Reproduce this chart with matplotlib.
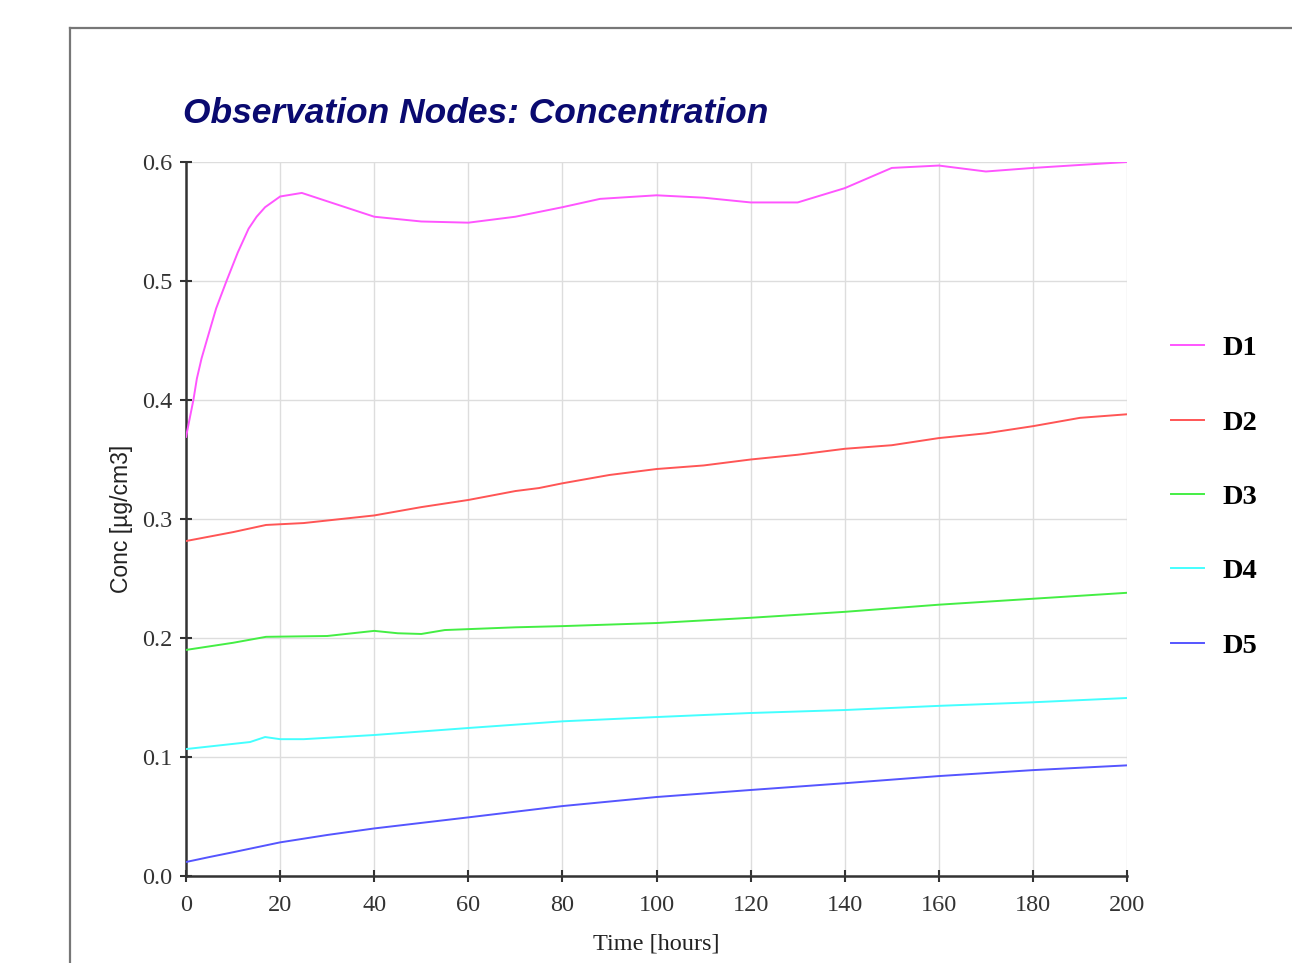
import matplotlib.pyplot as plt
from matplotlib.lines import Line2D
import numpy as np

# time points (hours)
t_d1 = [0, 0.8, 1.56, 2.3, 3.3, 4.4, 6.4, 8.6, 11, 13.3, 15, 16.8, 20, 24.6, 40, 50, 60, 70, 80, 88,
        100, 110, 120, 130, 140, 150, 160, 170, 180, 200]
d1 = [0.369, 0.385, 0.400, 0.418, 0.435, 0.450, 0.477, 0.500, 0.524, 0.544, 0.554, 0.562, 0.571, 0.574,
      0.554, 0.550, 0.549, 0.554, 0.562, 0.569, 0.572, 0.570, 0.566, 0.566, 0.578, 0.595, 0.597, 0.592,
      0.595, 0.600]

t_d2 = [0, 10, 17, 25, 40, 50, 60, 70, 75, 80, 90, 100, 110, 120, 130, 140, 150, 160, 170, 180, 190, 200]
d2 = [0.2815, 0.289, 0.295, 0.2966, 0.303, 0.310, 0.316, 0.3235, 0.326, 0.330, 0.337, 0.342, 0.345,
      0.350, 0.354, 0.359, 0.362, 0.368, 0.372, 0.378, 0.385, 0.388]

t_d3 = [0, 10, 17, 30, 40, 45, 50, 55, 70, 80, 100, 120, 140, 160, 180, 200]
d3 = [0.190, 0.196, 0.201, 0.2017, 0.206, 0.204, 0.2034, 0.2067, 0.209, 0.210, 0.2126, 0.217, 0.222,
      0.228, 0.233, 0.238]

t_d4 = [0, 13.6, 16.8, 20, 25, 40, 60, 80, 100, 120, 140, 160, 180, 200]
d4 = [0.1067, 0.1126, 0.1168, 0.115, 0.115, 0.1185, 0.1244, 0.130, 0.1336, 0.137, 0.1395, 0.143,
      0.146, 0.1496]

t_d5 = [0, 5, 10, 20, 30, 40, 60, 80, 100, 120, 140, 160, 180, 200]
d5 = [0.0118, 0.016, 0.020, 0.0283, 0.0345, 0.040, 0.0493, 0.0588, 0.0664, 0.0723, 0.078, 0.084,
      0.089, 0.093]

names = ['D1', 'D2', 'D3', 'D4', 'D5']
colors = ['#ff55ff', '#ff5555', '#44ee44', '#44ffff', '#5555ff']

serif = ['Liberation Serif', 'DejaVu Serif']
sans = ['Liberation Sans', 'DejaVu Sans']

fig = plt.figure(figsize=(12.92, 9.63), dpi=100)
ax = fig.add_axes([0.144, 0.0903, 0.7283, 0.7415])

series = [(t_d1, d1), (t_d2, d2), (t_d3, d3), (t_d4, d4), (t_d5, d5)]
for (tt, vv), name, c in zip(series, names, colors):
    ax.plot(tt, vv, color=c, lw=1.4, label=name, zorder=3)

ax.set_xlim(0, 200)
ax.set_ylim(0, 0.6)
ax.set_xticks(np.arange(0, 201, 20))
ax.set_yticks(np.arange(0, 0.61, 0.1))
ax.set_yticklabels(['%.1f' % v for v in np.arange(0, 0.61, 0.1)])
ax.grid(True, color='#dddddd', lw=1.0, zorder=0)
ax.set_axisbelow(True)

for s in ['top', 'right']:
    ax.spines[s].set_visible(False)
for s in ['left', 'bottom']:
    ax.spines[s].set_linewidth(1.8)
    ax.spines[s].set_color('#333333')

ax.tick_params(direction='inout', length=9, width=1.5, color='#333333',
               labelsize=17.5, labelcolor='#333333', pad=5.5)
ax.tick_params(axis='x', pad=9)
for lab in ax.get_xticklabels() + ax.get_yticklabels():
    lab.set_family(serif)

ax.set_xlabel('Time [hours]', family=serif, fontsize=17.5, color='#222222')
ax.set_ylabel('Conc [µg/cm3]', family=sans, fontsize=16.5, color='#222222')
ax.xaxis.set_label_coords(0.5, -0.0798)
ax.yaxis.set_label_coords(-0.0563, 0.5)

fig.text(0.1416, 0.882, 'Observation Nodes: Concentration', fontsize=25.5, fontweight='bold',
         fontstyle='italic', color='#0a0a70', family=sans, ha='left', va='center')

leg = ax.legend(loc='upper left', bbox_to_anchor=(1.020, 0.793), frameon=False,
                prop={'family': serif, 'weight': 'bold', 'size': 20.5},
                handlelength=1.15, handletextpad=0.65, labelspacing=1.70)

# outer panel frame
fig.add_artist(Line2D([0.0542, 0.0542], [0.0, 0.9709], color='#777777', lw=1.6))
fig.add_artist(Line2D([0.0542, 1.0], [0.9709, 0.9709], color='#777777', lw=1.6))

fig.savefig('out.png', dpi=100)
